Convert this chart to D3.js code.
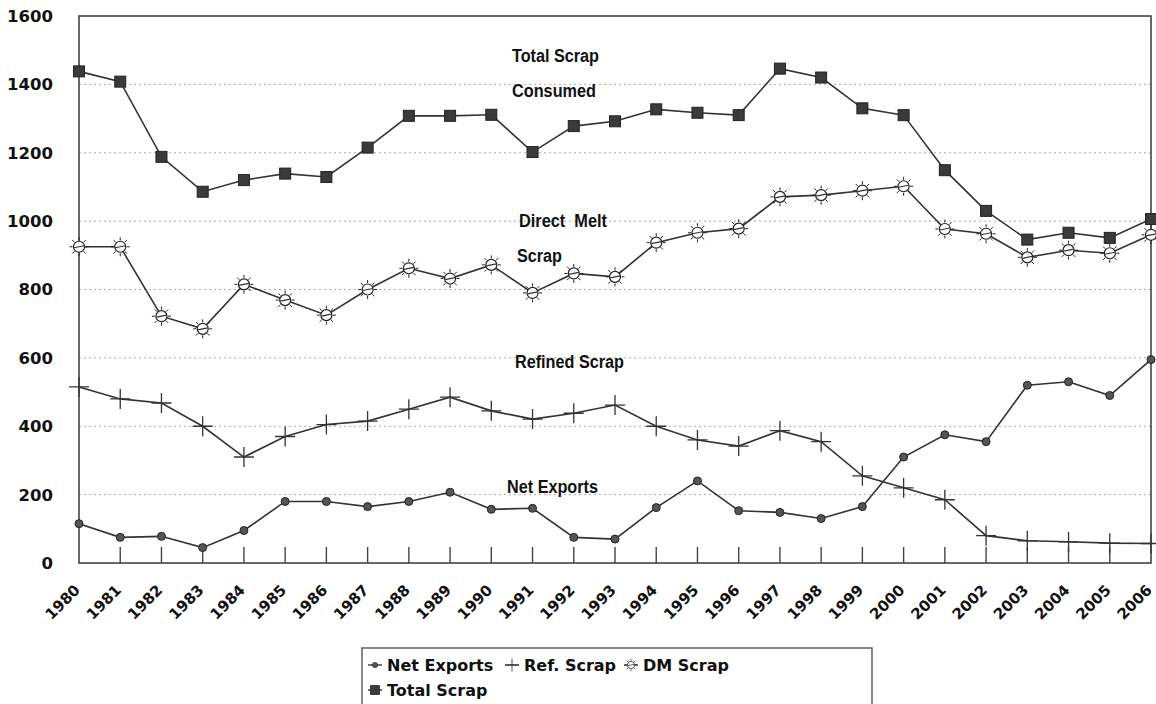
<!DOCTYPE html>
<html>
<head>
<meta charset="utf-8">
<script src="https://cdn.jsdelivr.net/npm/d3@7"></script>
<style>
body { margin: 0; background: #fff; }
text { font-family: 'DejaVu Sans', sans-serif; font-weight: bold; fill: #111; }
.note { font-family: 'Liberation Sans', Arial, sans-serif; font-size: 17.5px; white-space: pre; }
</style>
</head>
<body>
<script>
// data (thousand tons)
const years = [1980, 1981, 1982, 1983, 1984, 1985, 1986, 1987, 1988, 1989, 1990, 1991, 1992,
    1993, 1994, 1995, 1996, 1997, 1998, 1999, 2000, 2001, 2002, 2003, 2004, 2005, 2006];
const netExports = [115, 75, 78, 45, 95, 180, 180, 165, 180, 207, 157, 160, 75,
    70, 162, 240, 153, 148, 130, 165, 310, 375, 355, 520, 530, 490, 595];
const refScrap = [515, 480, 468, 400, 310, 370, 405, 415, 450, 485, 445, 421, 438,
    462, 400, 360, 342, 387, 355, 255, 220, 185, 80, 65, 62, 58, 57];
const dmScrap = [925, 925, 722, 685, 815, 769, 725, 800, 862, 832, 872, 790, 847,
    837, 937, 966, 978, 1071, 1076, 1089, 1102, 977, 963, 894, 915, 906, 960];
const totalScrap = [1438, 1408, 1188, 1086, 1120, 1139, 1129, 1215, 1308, 1308, 1311, 1202, 1278,
    1292, 1327, 1317, 1310, 1446, 1420, 1330, 1310, 1149, 1030, 946, 966, 951, 1006];
const yTicks = [0, 200, 400, 600, 800, 1000, 1200, 1400, 1600];
const seriesNames = ['Net Exports', 'Ref. Scrap', 'DM Scrap', 'Total Scrap'];

const margin = { top: 16, left: 79, right: 5, bottom: 141 };
const width = 1072;
const height = 547;
const ink = '#333';

const svg = d3.select('body').append('svg')
    .attr('width', 1156)
    .attr('height', 704);
const root = svg.append('g').attr('transform', `translate(${margin.left},${margin.top})`);

const xscale = d3.scalePoint().domain(years).range([0, width]);
const yscale = d3.scaleLinear().domain([0, 1600]).range([height, 0]);

//dotted gridlines
root.append('g').selectAll('line').data(yTicks.filter((d) => d > 0 && d < 1600)).enter()
    .append('line')
    .attr('x1', 0).attr('x2', width)
    .attr('y1', (d) => yscale(d)).attr('y2', (d) => yscale(d))
    .attr('stroke', '#aaa').attr('stroke-width', 1).attr('stroke-dasharray', '2,3');

//frame
root.append('rect')
    .attr('width', width).attr('height', height)
    .attr('fill', 'none').attr('stroke', '#444').attr('stroke-width', 1.6);

//y labels
root.append('g').selectAll('text').data(yTicks).enter()
    .append('text')
    .attr('x', -26).attr('y', (d) => yscale(d)).attr('dy', '0.36em')
    .attr('text-anchor', 'end').style('font-size', '16.5px')
    .text(String);

//inner tick marks on the bottom axis
root.append('g').selectAll('line').data(years.slice(1, -1)).enter()
    .append('line')
    .attr('x1', (d) => xscale(d)).attr('x2', (d) => xscale(d))
    .attr('y1', height).attr('y2', height - 16)
    .attr('stroke', '#444').attr('stroke-width', 1.4);

//x labels, rotated
root.append('g').selectAll('text').data(years).enter()
    .append('text')
    .attr('text-anchor', 'end').style('font-size', '15px')
    .attr('transform', (d) => `translate(${xscale(d) + 2},${height + 28}) rotate(-45)`)
    .text(String);

//marker drawers
function drawDot(g) {
    g.append('circle').attr('r', 4).attr('fill', '#555').attr('stroke', '#222').attr('stroke-width', 1);
}
function drawPlus(g) {
    g.append('path').attr('d', 'M-10,0H10M0,-10V10').attr('stroke', ink).attr('stroke-width', 1.3);
}
function drawSun(g) {
    g.append('circle').attr('r', 5.5).attr('fill', '#fff').attr('stroke', '#222').attr('stroke-width', 1.2);
    g.append('path').attr('d', 'M-5,1L5,-1').attr('stroke', ink).attr('stroke-width', 1.2);
    g.selectAll('line.ray').data(d3.range(8)).enter().append('line')
        .attr('class', 'ray')
        .attr('x1', (k) => 6.5 * Math.cos(k * Math.PI / 4)).attr('y1', (k) => 6.5 * Math.sin(k * Math.PI / 4))
        .attr('x2', (k) => 9.5 * Math.cos(k * Math.PI / 4)).attr('y2', (k) => 9.5 * Math.sin(k * Math.PI / 4))
        .attr('stroke', '#222').attr('stroke-width', 1);
}
function drawSquare(g) {
    g.append('rect').attr('x', -5.5).attr('y', -5.5).attr('width', 11).attr('height', 11)
        .attr('fill', '#3a3a3a').attr('stroke', '#222').attr('stroke-width', 1);
}

const series = [
    { name: seriesNames[0], values: netExports, marker: drawDot },
    { name: seriesNames[1], values: refScrap, marker: drawPlus },
    { name: seriesNames[2], values: dmScrap, marker: drawSun },
    { name: seriesNames[3], values: totalScrap, marker: drawSquare }
];

const line = d3.line().x((d, i) => xscale(years[i])).y((d) => yscale(d));

series.forEach((s) => {
    const g = root.append('g').attr('class', 'series');
    g.append('path').datum(s.values)
        .attr('d', line).attr('fill', 'none').attr('stroke', ink).attr('stroke-width', 1.6);
    g.selectAll('g.marker').data(s.values).enter().append('g')
        .attr('class', 'marker')
        .attr('transform', (d, i) => `translate(${xscale(years[i])},${yscale(d)})`)
        .each(function() { s.marker(d3.select(this)); });
});

//annotations inside the plot
const notes = [
    { text: 'Total Scrap', x: 512, y: 56, w: 87 },
    { text: 'Consumed', x: 512, y: 91, w: 84 },
    { text: 'Direct  Melt', x: 519, y: 221, w: 88 },
    { text: 'Scrap', x: 517, y: 256, w: 45 },
    { text: 'Refined Scrap', x: 515, y: 362, w: 109 },
    { text: 'Net Exports', x: 507, y: 487, w: 91 }
];
svg.append('g').selectAll('text').data(notes).enter()
    .append('text').attr('class', 'note')
    .attr('x', (d) => d.x).attr('y', (d) => d.y).attr('dy', '0.36em')
    .attr('textLength', (d) => d.w).attr('lengthAdjust', 'spacingAndGlyphs')
    .text((d) => d.text);

//legend
const legend = svg.append('g').attr('transform', 'translate(362,648)');
legend.append('rect')
    .attr('width', 510).attr('height', 70)
    .attr('fill', '#fff').attr('stroke', '#555').attr('stroke-width', 1.4);
const legendPos = [[6, 17], [143, 17], [262, 17], [6, 42]];
series.forEach((s, i) => {
    const item = legend.append('g').attr('transform', `translate(${legendPos[i][0]},${legendPos[i][1]})`);
    item.append('line').attr('x1', 0).attr('x2', 14).attr('stroke', ink).attr('stroke-width', 1.4);
    const m = item.append('g').attr('transform', `translate(7,0) scale(${i === 3 ? 0.8 : 0.65})`);
    s.marker(m);
    item.append('text').attr('x', 19).attr('dy', '0.36em').style('font-size', '16px').text(s.name);
});
</script>
</body>
</html>
